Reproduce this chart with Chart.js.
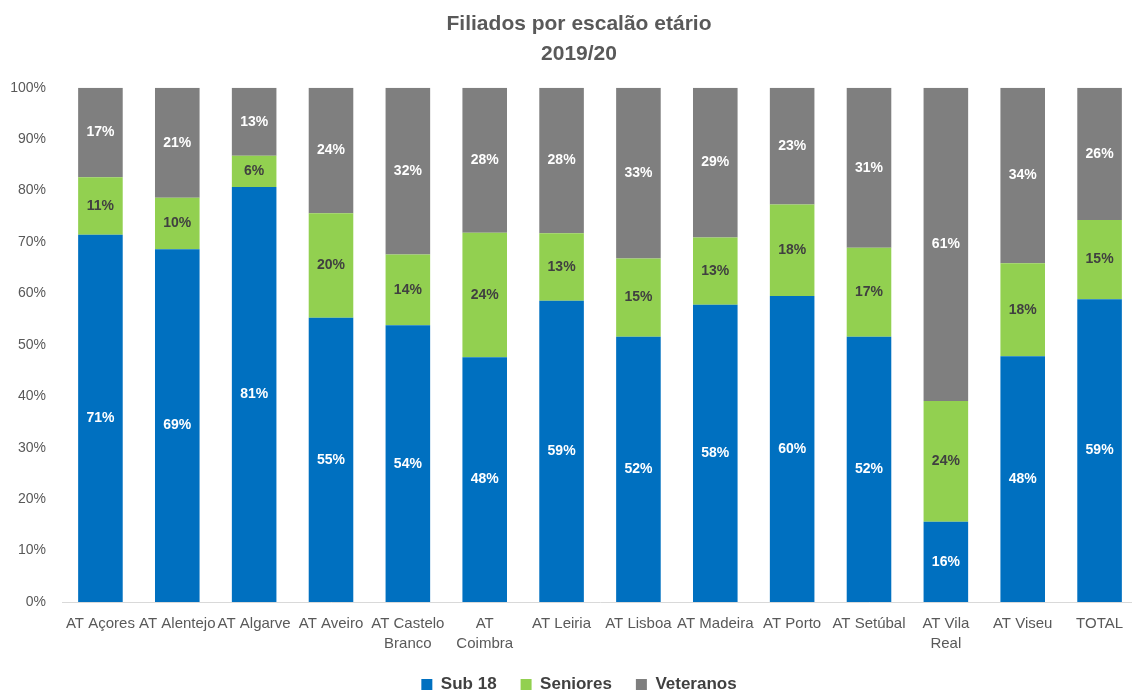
<!DOCTYPE html>
<html>
<head>
<meta charset="utf-8">
<script src="https://cdn.jsdelivr.net/npm/chart.js@4"></script>
<style>
  html, body { margin: 0; padding: 0; background: #fff; overflow: hidden; }
  #wrap { width: 1160px; height: 695px; }
</style>
</head>
<body>
<div id="wrap"><canvas id="myChart"></canvas></div>
<script>
const categories = ["AT Açores", "AT Alentejo", "AT Algarve", "AT Aveiro", ["AT Castelo", "Branco"], ["AT", "Coimbra"], "AT Leiria", "AT Lisboa", "AT Madeira", "AT Porto", "AT Setúbal", ["AT Vila", "Real"], "AT Viseu", "TOTAL"];
const sub18 = [71.4, 68.6, 80.7, 55.3, 53.8, 47.6, 58.6, 51.6, 57.8, 59.5, 51.6, 15.6, 47.8, 58.9];
const seniores = [11.2, 10.0, 6.1, 20.3, 13.8, 24.2, 13.1, 15.2, 13.1, 17.8, 17.3, 23.5, 18.1, 15.4];
const veteranos = [17.4, 21.4, 13.2, 24.4, 32.4, 28.2, 28.3, 33.2, 29.1, 22.7, 31.1, 60.9, 34.1, 25.7];
const yTicks = [0, 10, 20, 30, 40, 50, 60, 70, 80, 90, 100];

const labelColors = ["#ffffff", "#404040", "#ffffff"];

// escreve as percentagens no meio de cada segmento
const barLabels = {
  id: "barLabels",
  afterDatasetsDraw(chart) {
    const ctx = chart.ctx;
    ctx.save();
    ctx.font = "bold 14px 'Liberation Sans', Arial, sans-serif";
    ctx.textAlign = "center";
    ctx.textBaseline = "middle";
    chart.data.datasets.forEach((ds, i) => {
      const meta = chart.getDatasetMeta(i);
      meta.data.forEach((bar, j) => {
        const y = (bar.y + bar.base) / 2;
        ctx.fillStyle = labelColors[i];
        ctx.fillText(Math.round(ds.data[j]) + "%", bar.x, y);
      });
    });
    ctx.restore();
  }
};

// legenda mais baixa e título/legenda um pouco para a direita
const legendFit = {
  id: "legendFit",
  beforeLayout(chart) {
    const lg = chart.legend;
    if (lg && !lg._patched) {
      const fit = lg.fit;
      lg.fit = function () {
        fit.call(this);
        this.height -= 8;
      };
      lg._patched = true;
    }
  },
  afterLayout(chart) {
    if (chart.titleBlock) chart.titleBlock.left += 20;
    if (chart.legend) chart.legend.left += 20;
  }
};

const ctx = document.getElementById("myChart").getContext("2d");
new Chart(ctx, {
  type: "bar",
  data: {
    labels: categories,
    datasets: [
      { label: "Sub 18", data: sub18, backgroundColor: "#0070C0" },
      { label: "Seniores", data: seniores, backgroundColor: "#92D050" },
      { label: "Veteranos", data: veteranos, backgroundColor: "#7F7F7F" }
    ]
  },
  options: {
    responsive: true,
    maintainAspectRatio: false,
    animation: false,
    datasets: { bar: { barPercentage: 0.58, categoryPercentage: 1 } },
    layout: { padding: { left: 0, right: 22, top: 10, bottom: 0 } },
    plugins: {
      title: {
        display: true,
        text: ["Filiados por escalão etário", "2019/20"],
        color: "#595959",
        font: { family: "'Liberation Sans', Arial, sans-serif", size: 21, weight: "bold", lineHeight: 1.4 },
        padding: { top: 0, bottom: 19 }
      },
      legend: {
        position: "bottom",
        labels: {
          color: "#404040",
          font: { family: "'Liberation Sans', Arial, sans-serif", size: 17, weight: "bold" },
          boxWidth: 11,
          boxHeight: 11,
          padding: 24
        }
      },
      tooltip: { enabled: false }
    },
    scales: {
      x: {
        stacked: true,
        grid: { display: false, drawTicks: false },
        border: { color: "#D9D9D9", width: 1 },
        afterFit: (s) => { s.height = 50; },
        ticks: {
          color: "#595959",
          font: { family: "'Liberation Sans', Arial, sans-serif", size: 15, lineHeight: 1.33 },
          maxRotation: 0,
          autoSkip: false,
          padding: 12
        }
      },
      y: {
        stacked: true,
        min: 0,
        max: 100,
        grid: { display: false, drawTicks: false },
        border: { display: false },
        afterFit: (s) => { s.width = 62; },
        afterBuildTicks: (axis) => { axis.ticks = yTicks.map(v => ({ value: v })); },
        ticks: {
          color: "#595959",
          font: { family: "'Liberation Sans', Arial, sans-serif", size: 14 },
          padding: 16,
          callback: (v) => v + "%"
        }
      }
    }
  },
  plugins: [barLabels, legendFit]
});
</script>
</body>
</html>
